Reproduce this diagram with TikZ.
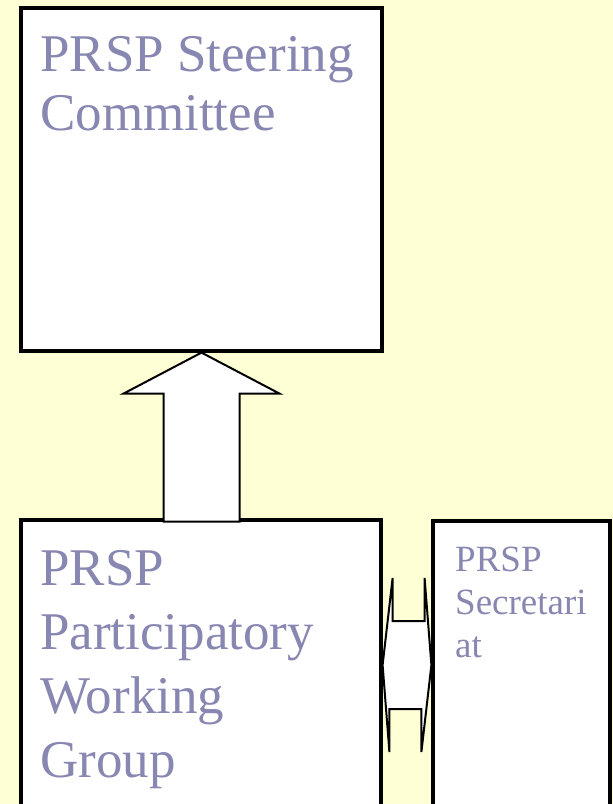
\documentclass[tikz,border=0pt]{standalone}
\usepackage{fontspec}
\setmainfont{Liberation Serif}
\definecolor{bgyellow}{RGB}{255,255,213}
\definecolor{txtblue}{RGB}{135,135,178}

\begin{document}
\begin{tikzpicture}[x=1pt,y=-1pt]
\tikzstyle{every node}+=[inner sep=0pt]
\tikzstyle{box}=[draw=black,line width=3.2pt,fill=white]
\tikzstyle{boxtext}=[text=txtblue,align=left,anchor=north west]
\tikzstyle{blockarrow}=[draw=black,line width=2pt,fill=white,line join=miter]
\clip (0,0) rectangle (613,804);
\fill [bgyellow] (0,0) rectangle (613,804);
\node [box,minimum width=361pt,minimum height=343pt] (steer) at (201.5,179.5) {};
\node [box,minimum width=360pt,minimum height=290pt] (pwg) at (201,665) {};
\node [box,minimum width=177pt,minimum height=288pt] (sec) at (521.5,665) {};
\node [boxtext,font=\fontsize{53}{59}\selectfont] (steertext) at (40,36) {PRSP Steering\\Committee};
\node [boxtext,font=\fontsize{53}{64}\selectfont] (pwgtext) at (40,550) {PRSP\\Participatory\\Working\\Group};
\node [boxtext,font=\fontsize{37}{43}\selectfont] (sectext) at (455,547) {PRSP\\Secretari\\at};
\draw [blockarrow] (steer.south) -- ++(78,41) -- ++(-40,0) -- ++(0,128) -- ++(-76,0) -- ++(0,-128) -- ++(-40,0) -- cycle;
\draw [blockarrow] (pwg.east) -- ++(10,-87) -- ++(0,43) -- ++(32,0) -- ++(0,-43) -- (sec.west) -- ++(-10,87) -- ++(0,-43) -- ++(-32,0) -- ++(0,43) -- cycle;
\end{tikzpicture}
\end{document}
